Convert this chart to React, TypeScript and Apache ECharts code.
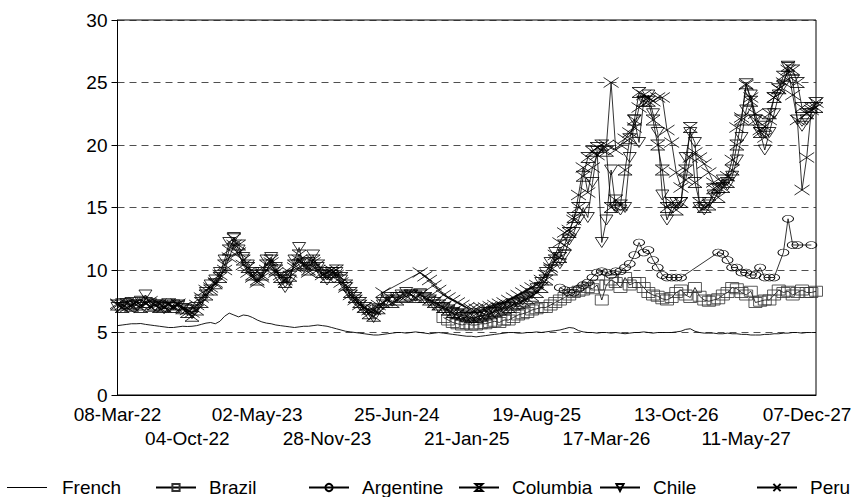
import React, { useEffect, useRef } from "react";
import * as echarts from "echarts";

// Biweekly observations starting 08-Mar-22 (index i -> 08-Mar-22 + 14*i days)
const START = { y: 2022, m: 2, d: 8 };
const STEP_DAYS = 14;

const tickLabels = [
  "08-Mar-22", "04-Oct-22", "02-May-23", "28-Nov-23", "25-Jun-24", "21-Jan-25",
  "19-Aug-25", "17-Mar-26", "13-Oct-26", "11-May-27", "07-Dec-27",
];

const seriesNames = ["French", "Brazil", "Argentine", "Columbia", "Chile", "Peru"];

const french = [
  5.55, 5.6, 5.65, 5.7, 5.7, 5.72, 5.65, 5.6, 5.55, 5.5,
  5.45, 5.4, 5.4, 5.45, 5.5, 5.48, 5.5, 5.55, 5.65, 5.75,
  5.8, 5.7, 5.9, 6.3, 6.55, 6.4, 6.25, 6.4, 6.35, 6.2,
  6.0, 5.85, 5.75, 5.7, 5.6, 5.55, 5.5, 5.45, 5.4, 5.45,
  5.5, 5.5, 5.55, 5.6, 5.55, 5.5, 5.4, 5.3, 5.2, 5.1,
  5.05, 5.0, 4.95, 4.9, 4.85, 4.8, 4.8, 4.85, 4.9, 4.95,
  5.0, 5.0, 4.95, 5.0, 5.05, 5.0, 4.95, 4.9, 4.95, 5.0,
  4.95, 4.9, 4.85, 4.8, 4.75, 4.7, 4.7, 4.65, 4.7, 4.75,
  4.8, 4.85, 4.9, 4.95, 5.0, 5.0, 4.95, 4.95, 5.0, 5.0,
  5.05, 5.0, 5.05, 5.1, 5.15, 5.2, 5.3, 5.4, 5.35, 5.15,
  5.05, 5.0, 5.0, 4.95, 5.0, 5.0, 4.95, 5.0, 4.95, 4.9,
  4.95, 5.0, 5.0, 5.05, 5.0, 4.95, 5.0, 5.0, 5.0, 5.0,
  5.05, 5.1, 5.25, 5.3, 5.1, 5.0, 4.95, 4.95, 4.95, 4.9,
  4.9, 4.95, 4.9, 4.9, 4.85, 4.85, 4.8, 4.8, 4.8, 4.85,
  4.85, 4.9, 4.9, 4.95, 4.95, 5.0, 5.0, 4.95, 5.0, 5.0,
  5.0,
];

// Brazil starts at observation 70
const BRAZIL_START = 70;
const brazil = [
  6.2, 6.0, 5.8, 5.7, 5.6, 5.7, 5.6, 5.6, 5.7, 5.7,
  5.8, 5.9, 5.8, 6.0, 6.0, 6.2, 6.4, 6.5, 6.6, 6.8,
  6.9, 7.0, 7.0, 7.2, 7.4, 7.6, 7.8, 8.0, 8.2, 8.3,
  8.4, 8.6, 8.5, 8.8, 7.6, 8.8, 9.2, 9.0, 8.6, 9.4,
  8.8, 9.0, 9.0, 8.6, 8.2, 8.0, 7.9, 7.7, 7.6, 7.8,
  8.2, 8.4, 8.0, 7.8, 8.6, 7.9, 7.6, 7.5, 7.6, 7.7,
  8.0, 8.2, 8.6, 8.5, 8.2, 8.0, 8.3, 7.4, 7.5, 7.6,
  7.6, 8.0, 8.4, 8.2, 8.3, 8.0, 8.2, 8.4, 8.2, 8.2,
  8.3,
];

// Argentine starts at observation 95
const ARGENTINE_START = 95;
const argentine = [
  8.6, 8.4, 8.2, 8.2, 8.5,
  8.8, 9.0, 9.4, 9.8, 9.9, 9.8, 9.6, 9.9, 9.9, 10.2,
  10.5, 11.2, 12.2, 11.4, 11.6, 10.8, 10.2, 9.6, 9.4, 9.4,
  9.4, 9.4, null, null, null, null, null, null, null, 11.4,
  11.3, 10.8, 10.2, 10.2, 9.8, 9.8, 9.6, 9.6, 10.2, 9.4,
  9.4, 9.4, null, 11.4, 14.1, 12.0, 12.0, null, null, 12.0,
  null,
];

const columbia = [
  7.2, 7.0, 7.3, 7.1, 7.2, 7.0, 7.4, 7.1, 7.2, 7.0,
  7.1, 7.3, 7.0, 7.2, 6.9, 6.6, 6.3, 6.8, 7.4, 8.0,
  8.4, 8.9, 9.4, 10.4, 11.6, 12.5, 12.0, 10.8, 10.2, 9.6,
  9.2, 9.6, 10.4, 10.8, 10.0, 9.4, 9.0, 9.5, 10.4, 11.2,
  10.5, 10.0, 10.8, 10.4, 9.8, 9.4, 9.8, 10.0, 9.4, 8.8,
  8.2, 7.8, 7.4, 7.0, 6.5, 6.3, 6.9, 7.4, 7.6, 7.4,
  7.6, 7.8, 7.9, 8.0, 7.8, 8.0, 7.8, 7.6, 7.4, 7.2,
  7.0, 6.8, 6.6, 6.5, 6.4, 6.3, 6.2, 6.2, 6.3, 6.4,
  6.5, 6.7, 6.8, 6.9, 7.0, 7.2, 7.3, 7.5, 7.7, 7.9,
  8.2, 8.6, 9.2, 10.0, 10.8, 11.0, 12.0, 13.0, 14.2, 15.0,
  17.5, 19.0, 19.5, 19.8, 20.0, 19.5, 15.0, 15.6, 15.2, 18.0,
  20.5, 22.0, 24.2, 23.5, 23.5, 22.0, 20.0, 18.0, 15.0, 15.4,
  14.8, 15.4, 18.0, 21.4, 17.0, 15.4, 15.0, 15.2, 16.5, 15.8,
  16.6, 17.0, 18.0, 20.0, 22.0, 24.9, 23.5, 22.0, 21.0, 21.5,
  22.5, 23.8, 24.5, 25.5, 26.3, 26.0, 25.0, 23.0, 22.5, 23.0,
  23.0,
];

const chile = [
  7.0, 7.3, 7.1, 7.4, 7.2, 7.5, 8.0, 7.3, 7.1, 7.2,
  6.9, 7.0, 7.2, 7.1, 6.9, 6.8, 6.5, 7.0, 7.6, 8.2,
  8.8, 9.2, 9.8, 10.8, 12.2, 12.6, 11.6, 11.0, 10.4, 9.8,
  9.4, 9.8, 10.8, 11.0, 10.2, 9.2, 8.6, 9.2, 10.8, 11.8,
  10.2, 10.6, 11.2, 10.2, 9.6, 9.2, 9.6, 9.8, 9.2, 8.6,
  8.0, 7.6, 7.2, 6.8, 6.4, 6.2, 6.8, 7.2, 7.8, 7.5,
  7.8, 8.0, 8.2, 8.0, 7.9, 8.1, 7.7, 7.5, 7.2, 7.0,
  6.9, 6.7, 6.5, 6.4, 6.2, 6.2, 6.1, 6.2, 6.4, 6.3,
  6.6, 6.6, 6.9, 7.0, 7.1, 7.3, 7.4, 7.6, 7.8, 8.1,
  8.5, 9.0, 9.8, 10.6, 11.4, 10.5, 11.2, 12.4, 13.0, 14.0,
  15.0, 14.2, 17.0, 19.5, 12.2, 14.0, 18.0, 15.0, 14.8, 15.0,
  19.0, 22.0, 20.2, 23.5, 24.0, 22.5, 21.0, 16.0, 14.0, 15.0,
  15.4, 15.4, 19.0, 21.0, 20.2, 15.0, 14.8, 15.4, 16.0, 16.5,
  17.2, 16.8, 17.5, 18.8, 20.6, 22.8, 24.0, 22.0, 21.0, 19.6,
  21.0, 22.5, 24.0, 24.8, 26.2, 25.2, 22.0, 21.5, 22.0, 22.5,
  23.4,
];

const peru = [
  7.3, 7.2, 7.0, 7.2, 7.4, 7.2, 7.3, 7.5, 7.2, 7.3,
  7.0, 7.2, 7.1, 7.3, 7.0, 6.8, 6.6, 7.2, 7.8, 8.4,
  8.6, 9.0, 9.6, 10.0, 11.0, 12.0, 11.4, 10.4, 9.8, 9.4,
  9.0, 9.4, 10.0, 10.6, 9.8, 9.6, 9.2, 9.8, 10.2, 10.8,
  10.4, 9.8, 10.6, 10.0, 9.6, 9.8, 10.0, 9.6, 9.0, 8.6,
  8.0, 7.6, 7.2, 7.0, 6.8, 6.8, 7.2, 8.2, null, null,
  null, null, null, null, null, 9.8, 9.5, 9.2, 8.8, 8.4,
  8.0, 7.8, 7.6, 7.4, 7.2, 7.0, 6.9, 6.9, 7.0, 7.0,
  7.1, 7.2, 7.3, 7.4, 7.6, 7.8, 8.0, 8.2, 8.4, 8.6,
  8.8, 9.2, 9.6, 10.2, 11.2, 12.2, 13.0, 13.2, 14.0, 16.0,
  18.2, 16.2, 18.2, 19.2, 19.6, 20.0, 25.0, 19.6, 20.0, 20.5,
  21.0, 21.4, 23.0, 24.0, 23.8, 23.5, 23.8, 23.8, 21.2, 20.2,
  17.8, 16.6, 17.2, 19.0, 19.4, 19.0, 18.5, 17.8, 17.0, 16.6,
  17.0, 17.5, 18.8, 21.4, 22.2, 24.8, 23.8, 22.5, 21.2, 20.6,
  22.0, 23.8, 24.5, 25.0, 26.0, 24.0, 22.0, 16.4, 19.0, 22.8,
  23.4,
];

const MONTHS = ["Jan", "Feb", "Mar", "Apr", "May", "Jun", "Jul", "Aug", "Sep", "Oct", "Nov", "Dec"];
function fmtDate(t: number): string {
  const d = new Date(t);
  const dd = String(d.getUTCDate()).padStart(2, "0");
  const yy = String(d.getUTCFullYear() % 100).padStart(2, "0");
  return `${dd}-${MONTHS[d.getUTCMonth()]}-${yy}`;
}

const FONT = '"Liberation Sans", Arial, Helvetica, sans-serif';

export default function App() {
  const ref = useRef<HTMLDivElement>(null);

  useEffect(() => {
    if (!ref.current) return;
    const chart = echarts.init(ref.current, undefined, { renderer: "svg" });
    const n = french.length;
    const t0 = Date.UTC(START.y, START.m, START.d);
    const categories = Array.from({ length: n }, (_, i) => fmtDate(t0 + i * STEP_DAYS * 86400000));
    const labelEvery = 15;
    const lastTick = tickLabels.length - 1;

    const pad = (start: number, vals: (number | null)[]) =>
      (new Array(start).fill(null) as (number | null)[]).concat(vals);

    const hollow = { color: "rgba(0,0,0,0)", borderColor: "#000", borderWidth: 0.8 };
    const base = {
      type: "line",
      xAxisIndex: 0,
      showSymbol: true,
      showAllSymbol: true,
      connectNulls: true,
      lineStyle: { color: "#000", width: 0.8 },
      itemStyle: hollow,
      emphasis: { disabled: true },
    };

    const series: any[] = [
      { ...base, name: "French", data: french, symbol: "none", showSymbol: false, lineStyle: { color: "#000", width: 0.9 } },
      { ...base, name: "Brazil", data: pad(BRAZIL_START, brazil), symbol: "rect", symbolSize: [13, 10], itemStyle: { ...hollow, borderColor: "#333" } },
      { ...base, name: "Argentine", data: pad(ARGENTINE_START, argentine), symbol: "circle", symbolSize: [11, 7] },
      { ...base, name: "Columbia", data: columbia, symbol: "path://M0,0L12,0L0,10L12,10Z", symbolSize: [14, 10] },
      { ...base, name: "Chile", data: chile, symbol: "path://M0,0L12,0L6,9Z", symbolSize: [13, 10] },
      { ...base, name: "Peru", data: peru, symbol: "path://M0,0L14,10M14,0L0,10", symbolSize: [15, 10] },
    ];

    const legendLefts = [7, 155, 308, 458, 599, 756];
    const legends = seriesNames.map((name, k) => {
      const lg: any = {
        data: [name],
        left: legendLefts[k],
        top: 478,
        padding: 0,
        itemWidth: 40,
        itemHeight: 9,
        selectedMode: false,
        textStyle: { fontSize: 19, fontFamily: FONT, color: "#000", padding: [0, 0, 0, 8] },
      };
      if (name === "French") {
        lg.icon = "rect";
        lg.itemHeight = 1;
        lg.itemStyle = { color: "#000", borderWidth: 0 };
        lg.textStyle = { ...lg.textStyle, padding: [0, 0, 0, 10] };
      }
      return lg;
    });

    const labelStyle = {
      fontSize: 19,
      fontFamily: FONT,
      color: "#000",
      hideOverlap: false,
      rich: { last: { fontSize: 19, fontFamily: FONT, color: "#000", padding: [0, 18, 0, 0] } },
      formatter: (_v: string, idx: number) => {
        const k = Math.round(idx / labelEvery);
        const lab = tickLabels[k] ?? _v;
        return k === lastTick ? `{last|${lab}}` : lab;
      },
    };

    chart.setOption({
      animation: false,
      backgroundColor: "#fff",
      grid: {
        left: 117.5,
        right: 40,
        top: 20,
        bottom: 102,
        containLabel: false,
        outerBoundsMode: "none",
        show: true,
        borderColor: "#000",
        borderWidth: 1,
        backgroundColor: "transparent",
      },
      legend: legends,
      xAxis: [
        {
          type: "category",
          data: categories,
          boundaryGap: false,
          axisLine: { lineStyle: { color: "#000", width: 1 } },
          axisTick: { show: false },
          splitLine: { show: false },
          axisLabel: {
            ...labelStyle,
            interval: (idx: number) => idx % (2 * labelEvery) === 0,
            showMinLabel: true,
            showMaxLabel: true,
            margin: 10,
          },
        },
        {
          type: "category",
          data: categories,
          position: "bottom",
          offset: 0,
          boundaryGap: false,
          axisLine: { show: false },
          axisTick: { show: false },
          splitLine: { show: false },
          axisLabel: {
            ...labelStyle,
            interval: (idx: number) => idx % (2 * labelEvery) === labelEvery,
            margin: 34,
          },
        },
      ],
      yAxis: {
        type: "value",
        min: 0,
        max: 30,
        interval: 5,
        axisLine: { show: true, lineStyle: { color: "#000", width: 1 } },
        axisTick: { show: true, length: 6, lineStyle: { color: "#000" } },
        axisLabel: { fontSize: 19, fontFamily: FONT, color: "#000", margin: 10 },
        splitLine: { show: true, lineStyle: { type: [7, 5], color: "#222", width: 0.8 } },
      },
      series,
    });

    return () => chart.dispose();
  }, []);

  return (
    <div
      ref={ref}
      style={{ position: "absolute", left: 0, top: 0, width: 856, height: 497, background: "#fff" }}
    />
  );
}
